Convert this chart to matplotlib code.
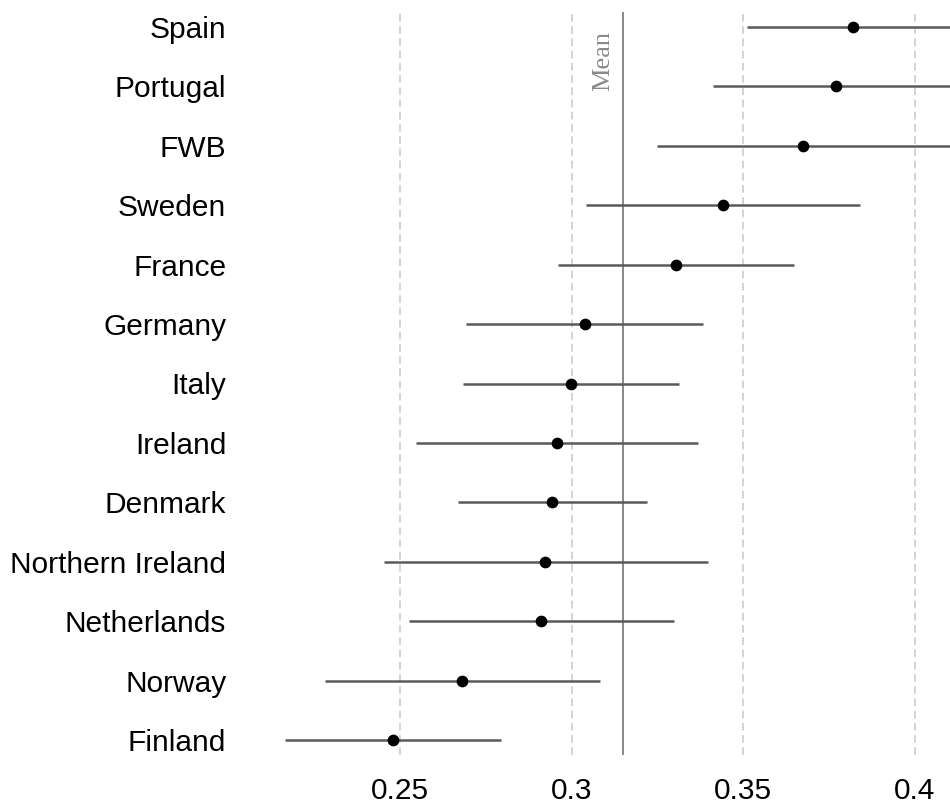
import numpy as np
import matplotlib
matplotlib.use('Agg')
import matplotlib.pyplot as plt

# estimates per country, top to bottom
countries = ['Spain', 'Portugal', 'FWB', 'Sweden', 'France', 'Germany', 'Italy',
             'Ireland', 'Denmark', 'Northern Ireland', 'Netherlands', 'Norway', 'Finland']
est = [0.382, 0.377, 0.3674, 0.3441, 0.3304, 0.3039, 0.2997,
       0.2959, 0.2942, 0.2923, 0.2912, 0.268, 0.2479]
lower = [0.351, 0.3412, 0.3249, 0.3041, 0.2961, 0.2694, 0.2685,
         0.2548, 0.2668, 0.2453, 0.2527, 0.2281, 0.2165]
upper = [0.414, 0.413, 0.411, 0.3841, 0.3649, 0.3384, 0.3312,
         0.3369, 0.322, 0.3396, 0.3299, 0.3083, 0.2795]
mean_val = 0.3149
xticks = [0.25, 0.3, 0.35, 0.4]
xtick_labels = ['0.25', '0.3', '0.35', '0.4']

W, H = 950, 806
fig = plt.figure(figsize=(W / 100, H / 100), dpi=100)
ax = fig.add_axes([236 / W, (H - 755) / H, (W - 236) / W, (755 - 12) / H])

ypos = np.arange(len(countries))

ax.set_xticks(xticks)
ax.xaxis.grid(True, color='#c8c8c8', lw=1.1, linestyle=(0, (5, 3)), zorder=0)
ax.set_axisbelow(True)

ax.axvline(mean_val, color='#7f7f7f', lw=1.3, zorder=1)
ax.hlines(ypos, lower, upper, color='#5a5a5a', lw=1.8, zorder=2)
ax.scatter(est, ypos, s=55, color='black', zorder=3)

ax.annotate('Mean', xy=(mean_val, 1.0), xycoords=('data', 'axes fraction'),
            xytext=(-8, -19), textcoords='offset pixels', rotation=90,
            ha='right', va='top', fontsize=19, color='#8a8a8a',
            family='Liberation Serif')

ax.set_xlim(0.2023, 0.4102)
ax.set_ylim(len(countries) - 1 + 0.25, -0.25)
ax.set_yticks(ypos)
ax.set_yticklabels(countries, fontsize=21.5, family='Liberation Sans')
ax.set_xticklabels(xtick_labels, fontsize=21.5, family='Liberation Sans')
ax.tick_params(axis='y', length=0, pad=7)
ax.tick_params(axis='x', length=0, pad=16)
for s in ax.spines.values():
    s.set_visible(False)

fig.savefig('out.png', dpi=100)
